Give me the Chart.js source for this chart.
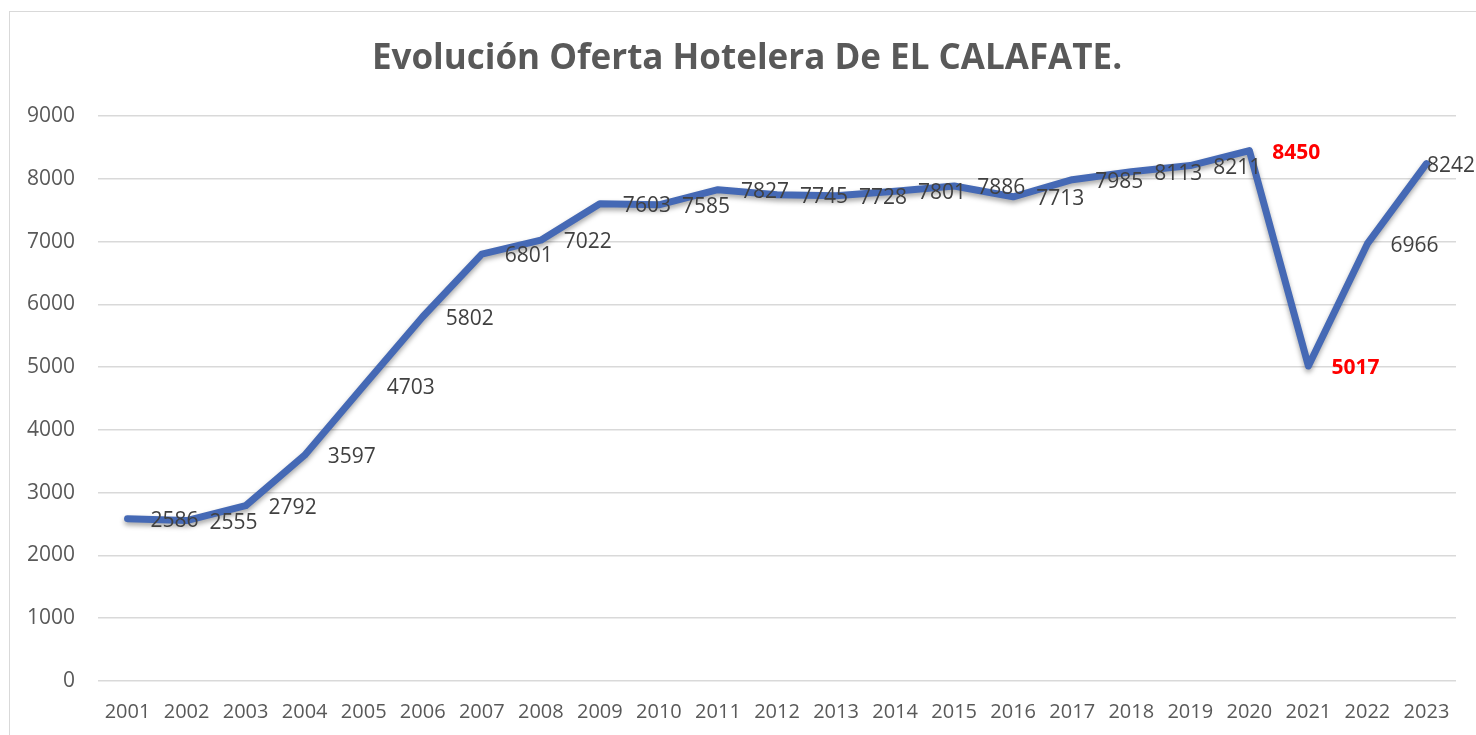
<!DOCTYPE html>
<html>
<head>
<meta charset="utf-8">
<script src="https://cdn.jsdelivr.net/npm/chart.js@4/dist/chart.umd.min.js"></script>
<style>
  html, body { margin: 0; padding: 0; background: #ffffff; }
  #wrap { position: relative; width: 1476px; height: 735px; overflow: hidden; }
  #frame { position: absolute; left: 9px; top: 11px; width: 1500px; height: 760px; border: 1px solid #d9d9d9; }
  #chart { position: absolute; left: 0; top: 0; }
</style>
</head>
<body>
<div id="wrap">
  <div id="frame"></div>
  <canvas id="chart" width="1476" height="735"></canvas>
</div>
<script>
// years on the x axis
var years = ["2001", "2002", "2003", "2004", "2005", "2006", "2007", "2008", "2009", "2010",
  "2011", "2012", "2013", "2014", "2015", "2016", "2017", "2018", "2019", "2020",
  "2021", "2022", "2023"];

// hotel beds (plazas) per year
var plazas = [2586, 2555, 2792, 3597, 4703, 5802, 6801, 7022, 7603, 7585,
  7827, 7745, 7728, 7801, 7886, 7713, 7985, 8113, 8211, 8450,
  5017, 6966, 8242];

// years whose labels are shown in red bold
var highlightYears = ["2020", "2021"];

var titleText = "Evolución Oferta Hotelera De EL CALAFATE.";

var FONT = "'Open Sans', 'Noto Sans', sans-serif";
var GRAY = "#595959";

// title drawn by hand, centred on the framed chart box
var chartTitle = {
  id: "chartTitle",
  afterDraw: function (chart) {
    var ctx = chart.ctx;
    ctx.save();
    ctx.font = "bold 35px " + FONT;
    ctx.fillStyle = GRAY;
    ctx.textAlign = "center";
    ctx.textBaseline = "middle";
    ctx.fillText(titleText, (chart.width + 18) / 2, 59);
    ctx.restore();
  }
};

// draws each value to the right of its point, like Excel's "right" label position
var valueLabels = {
  id: "valueLabels",
  afterDatasetsDraw: function (chart) {
    var ctx = chart.ctx;
    var meta = chart.getDatasetMeta(0);
    ctx.save();
    ctx.textAlign = "left";
    ctx.textBaseline = "middle";
    meta.data.forEach(function (pt, i) {
      var hot = highlightYears.indexOf(years[i]) !== -1;
      ctx.font = (hot ? "bold " : "") + "21px " + FONT;
      ctx.fillStyle = hot ? "#ff0000" : "#404040";
      var txt = String(plazas[i]);
      var w = ctx.measureText(txt).width;
      var x = pt.x + 23;
      if (x + w > chart.width - 1) x = chart.width - 1 - w;
      ctx.fillText(txt, x, pt.y + 2);
    });
    ctx.restore();
  }
};

// soft shadow under the line
var lineShadow = {
  id: "lineShadow",
  beforeDatasetDraw: function (chart) {
    var ctx = chart.ctx;
    ctx.save();
    ctx.shadowColor = "rgba(0, 0, 0, 0.35)";
    ctx.shadowBlur = 5;
    ctx.shadowOffsetY = 3;
  },
  afterDatasetDraw: function (chart) {
    chart.ctx.restore();
  }
};

new Chart(document.getElementById("chart").getContext("2d"), {
  type: "line",
  data: {
    labels: years,
    datasets: [
      {
        label: "Plazas",
        data: plazas,
        borderColor: "#4569b5",
        borderWidth: 7,
        borderJoinStyle: "round",
        borderCapStyle: "round",
        pointRadius: 0,
        tension: 0,
        fill: false
      }
    ]
  },
  plugins: [lineShadow, valueLabels, chartTitle],
  options: {
    responsive: false,
    animation: false,
    layout: { padding: { left: 9, right: 20, top: 116, bottom: 0 } },
    plugins: {
      legend: { display: false },
      tooltip: { enabled: false },
      title: { display: false }
    },
    scales: {
      x: {
        offset: true,
        grid: { display: false, drawTicks: false },
        border: { display: false },
        ticks: {
          color: GRAY,
          font: { family: FONT, size: 20 },
          padding: 19,
          maxRotation: 0,
          autoSkip: false
        },
        afterFit: function (scale) { scale.height = 54; }
      },
      y: {
        min: 0,
        max: 9000,
        grid: { color: "#d9d9d9", lineWidth: 1.5, drawTicks: false },
        border: { display: false },
        ticks: {
          stepSize: 1000,
          color: GRAY,
          font: { family: FONT, size: 21 },
          padding: 23,
          callback: function (value) { return String(value); }
        },
        afterFit: function (scale) { scale.width = 89; }
      }
    }
  }
});
</script>
</body>
</html>
